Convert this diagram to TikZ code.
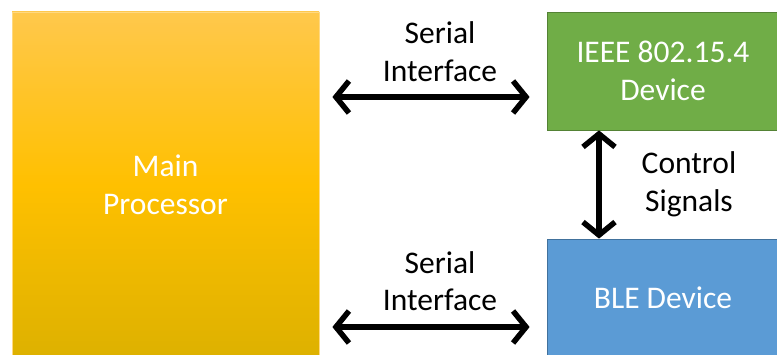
\documentclass[tikz,border=0pt]{standalone}
\usepackage{fontspec}
\setmainfont{Carlito}
\usetikzlibrary{arrows.meta,calc}
\definecolor{ytop}{HTML}{FFC84C}
\definecolor{ymid}{HTML}{FFC000}
\definecolor{ybot}{HTML}{DDB100}
\definecolor{boxgreen}{HTML}{70AD47}
\definecolor{boxgreenline}{HTML}{548235}
\definecolor{boxblue}{HTML}{5B9BD5}
\definecolor{boxblueline}{HTML}{41719C}
\begin{document}
\begin{tikzpicture}[x=1pt,y=1pt,
  txt/.style={font=\fontsize{31.5}{37.5}\selectfont, align=center},
  boxtxt/.style={txt, text=white, inner sep=0pt},
  biarr/.style={line width=5.5pt, {Straight Barb[length=13pt,width=32pt,line width=5.5pt]}-{Straight Barb[length=13pt,width=32pt,line width=5.5pt]}}
]
\useasboundingbox (0,0) rectangle (777,354);
\clip (0,0) rectangle (777,354);
\node[boxtxt, draw=ytop!70!white, line width=0.8pt, top color=ytop, bottom color=ybot, middle color=ymid,
  minimum width=307pt, minimum height=346pt] (main) at (165.5,169) {Main\\Processor};
\node[boxtxt, draw=boxgreenline, line width=0.8pt, fill=boxgreen,
  minimum width=232pt, minimum height=118pt] (green) at (663,283) {IEEE 802.15.4\\Device};
\node[boxtxt, draw=boxblueline, line width=0.8pt, fill=boxblue,
  minimum width=232pt, minimum height=118pt] (blue) at (663,56) {BLE Device};
\draw[biarr, shorten <=13pt, shorten >=17pt] (main.east |- 0,257) -- (green.west |- 0,257);
\draw[biarr, shorten <=13pt, shorten >=17pt] (main.east |- 0,27) -- (blue.west |- 0,27);
\draw[biarr] (green.south -| 599,0) -- (blue.north -| 599,0);
\node[txt] (si1) at (440,302.5) {Serial\\Interface};
\node[txt] (si2) at (440,73) {Serial\\Interface};
\node[txt] (cs) at (689,169.5) {Control\\Signals};
\end{tikzpicture}
\end{document}
